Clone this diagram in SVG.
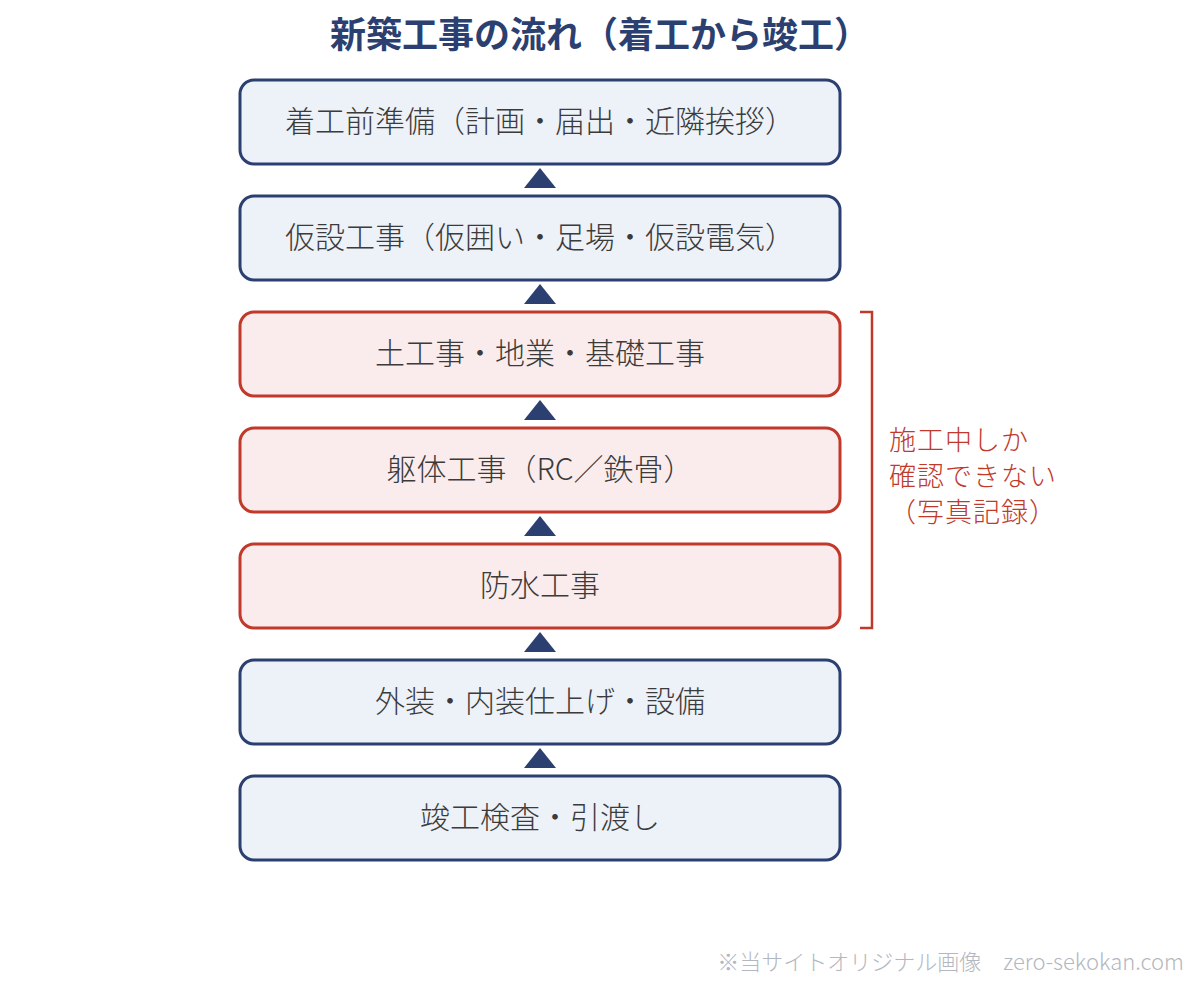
<svg xmlns="http://www.w3.org/2000/svg" width="1200" height="984" viewBox="0 0 1200 984">
  <style>
    text { font-family: "Noto Sans CJK JP", "Noto Sans", sans-serif; }
    .title { font-size: 36px; font-weight: 700; fill: #2b3f70; text-anchor: middle; }
    .box-b { fill: #edf1f8; stroke: #2b3f70; stroke-width: 3; }
    .box-r { fill: #faecec; stroke: #c0392b; stroke-width: 3; }
    .lbl { font-size: 30px; font-weight: 300; fill: #3b3b3b; text-anchor: middle; }
    .arrow { fill: #2b3f70; }
    .note { font-size: 27px; font-weight: 300; fill: #c0392b; letter-spacing: 1px; }
    .wm { font-size: 22px; font-weight: 300; fill: #b3b7bf; text-anchor: end; }
  </style>
  <rect width="1200" height="984" fill="#ffffff"/>
  <text class="title" x="600" y="48">新築工事の流れ（着工から竣工）</text>

  <g id="n1"><rect class="box-b" x="240" y="80" width="600" height="84" rx="14"/><text class="lbl" x="540" y="132">着工前準備（計画・届出・近隣挨拶）</text></g>
  <g id="n2"><rect class="box-b" x="240" y="196" width="600" height="84" rx="14"/><text class="lbl" x="540" y="248">仮設工事（仮囲い・足場・仮設電気）</text></g>
  <g id="n3"><rect class="box-r" x="240" y="312" width="600" height="84" rx="14"/><text class="lbl" x="540" y="364">土工事・地業・基礎工事</text></g>
  <g id="n4"><rect class="box-r" x="240" y="428" width="600" height="84" rx="14"/><text class="lbl" x="540" y="480">躯体工事（RC／鉄骨）</text></g>
  <g id="n5"><rect class="box-r" x="240" y="544" width="600" height="84" rx="14"/><text class="lbl" x="540" y="596">防水工事</text></g>
  <g id="n6"><rect class="box-b" x="240" y="660" width="600" height="84" rx="14"/><text class="lbl" x="540" y="712">外装・内装仕上げ・設備</text></g>
  <g id="n7"><rect class="box-b" x="240" y="776" width="600" height="84" rx="14"/><text class="lbl" x="540" y="828">竣工検査・引渡し</text></g>

  <g id="connectors">
    <polygon class="arrow" points="540,168 524,188 556,188"/>
    <polygon class="arrow" points="540,284 524,304 556,304"/>
    <polygon class="arrow" points="540,400 524,420 556,420"/>
    <polygon class="arrow" points="540,516 524,536 556,536"/>
    <polygon class="arrow" points="540,632 524,652 556,652"/>
    <polygon class="arrow" points="540,748 524,768 556,768"/>
  </g>

  <g id="bracket">
    <polyline points="860,312 872,312 872,628 860,628" fill="none" stroke="#c0392b" stroke-width="2.5"/>
    <text class="note"><tspan x="889" y="450">施工中しか</tspan><tspan x="889" y="486">確認できない</tspan><tspan x="889" y="522">（写真記録）</tspan></text>
  </g>

  <text class="wm" x="1184" y="970">※当サイトオリジナル画像　zero-sekokan.com</text>
</svg>
